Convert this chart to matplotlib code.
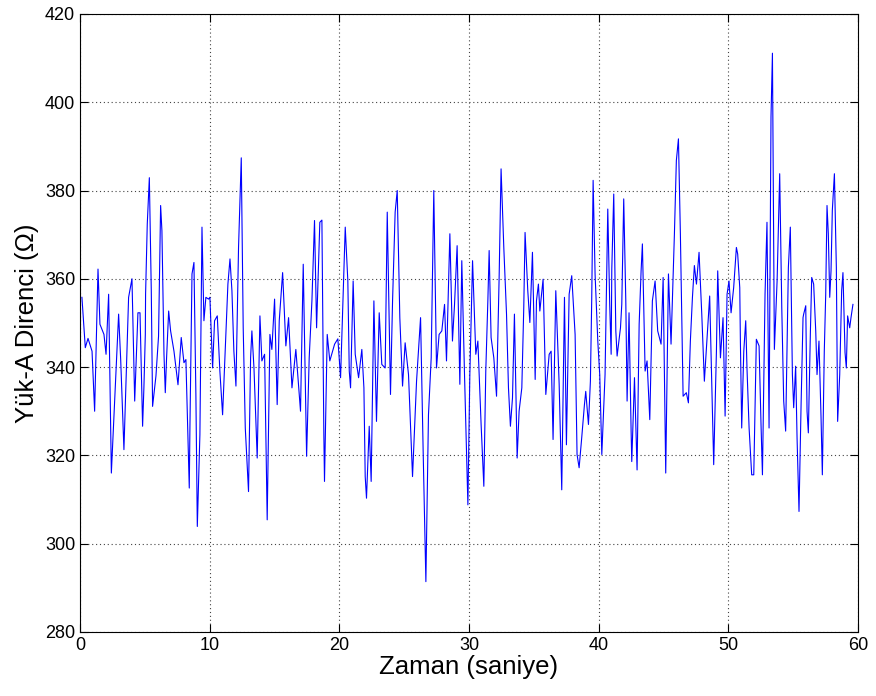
import matplotlib
matplotlib.use('Agg')
import matplotlib.pyplot as plt

# zaman (s) ve yük-A direnci (ohm)
zaman = [
    0.15, 0.41, 0.62, 0.93, 1.13, 1.39, 1.54, 1.85, 2.01, 2.21, 2.42, 2.62, 2.98, 3.14, 3.39, 3.75,
    4.01, 4.22, 4.47, 4.63, 4.83, 4.93, 5.04,
    5.06, 5.19, 5.35, 5.50, 5.60, 5.86, 6.06, 6.22, 6.32, 6.48, 6.58, 6.68, 6.84, 6.99, 7.25, 7.56,
    7.81, 8.02, 8.17, 8.38, 8.43, 8.48, 8.64, 8.79, 8.94, 9.05, 9.25, 9.41, 9.56, 9.71, 9.92,
    10.02, 10.23, 10.38, 10.59, 10.79, 11.00, 11.21, 11.41, 11.57, 11.72, 11.87, 12.03, 12.23, 12.44,
    12.59, 12.75, 13.00, 13.16, 13.26, 13.42, 13.67, 13.88, 14.03, 14.24, 14.44, 14.65, 14.80, 15.01,
    15.21,
    15.37, 15.63, 15.88, 16.09, 16.35, 16.65, 17.01, 17.22, 17.48, 17.68, 17.89, 18.09, 18.25, 18.50,
    18.66, 18.81, 18.86, 19.07, 19.27, 19.64, 19.89, 20.10, 20.30,
    20.46, 20.66, 20.77, 20.87, 21.07, 21.23, 21.49, 21.74, 21.90, 22.00, 22.10, 22.31, 22.46, 22.67,
    22.87, 23.08, 23.28, 23.54, 23.70, 23.95, 24.11, 24.31, 24.47, 24.67, 24.88, 25.08, 25.34,
    25.65, 25.96, 26.27, 26.47, 26.68, 26.88, 27.09, 27.29, 27.50, 27.70, 27.91, 28.12, 28.27, 28.53,
    28.73, 28.89, 29.09, 29.30, 29.45, 29.66, 29.92, 30.07, 30.28,
    30.53, 30.69, 30.94, 31.15, 31.30, 31.46, 31.56, 31.71, 31.92, 32.13, 32.33, 32.48, 32.69, 32.90,
    33.05, 33.20, 33.36, 33.51, 33.72, 33.87, 34.08, 34.23, 34.33, 34.54, 34.70, 34.90, 35.11, 35.21,
    35.36,
    35.47, 35.72, 35.93, 36.19, 36.34, 36.49, 36.70, 36.96, 37.16, 37.37, 37.52, 37.73, 37.93, 38.19,
    38.34, 38.50, 38.70, 38.91, 39.01, 39.22, 39.37, 39.47, 39.58, 39.73, 39.94, 40.09, 40.25, 40.50,
    40.71, 40.86, 40.97, 41.02, 41.17, 41.33, 41.43, 41.69, 41.79, 41.94, 42.10, 42.20, 42.35, 42.51,
    42.56, 42.77, 42.97, 43.13, 43.28, 43.38, 43.59, 43.74, 43.95, 44.15, 44.36, 44.56, 44.82, 44.98,
    45.18, 45.39, 45.59, 45.75,
    45.85, 46.00, 46.16, 46.31, 46.52, 46.77, 46.93, 47.08, 47.24, 47.39, 47.55, 47.75, 47.96, 48.16,
    48.32, 48.57, 48.73, 48.88, 49.09, 49.19, 49.40, 49.60, 49.76, 49.91, 50.06, 50.22, 50.42, 50.63,
    50.73, 50.89, 50.94, 51.04, 51.20, 51.35, 51.45, 51.61, 51.81, 51.97, 52.17, 52.38, 52.53, 52.64,
    52.84, 52.99, 53.15, 53.30, 53.41, 53.56, 53.77, 53.97, 54.13, 54.28, 54.43, 54.64, 54.79, 54.95,
    55.05, 55.20, 55.31, 55.46, 55.62, 55.77,
    55.82, 55.98, 56.08, 56.18, 56.34, 56.44, 56.59, 56.75, 56.85, 57.00, 57.16, 57.26, 57.41, 57.52,
    57.62, 57.72, 57.83, 57.93, 58.03, 58.19, 58.34, 58.44, 58.60, 58.75, 58.85, 59.01, 59.11, 59.21,
    59.37, 59.47, 59.62,
]
direnc = [
    355.8, 344.4, 346.5, 343.6, 330.0, 362.2, 349.7, 347.4, 342.9, 356.5, 316.0, 329.0, 352.0, 341.7, 321.3, 355.8,
    360.0, 332.3, 352.3, 352.3, 326.6, 335.3, 347.4,
    356.5, 372.4, 382.9, 357.3, 331.1, 338.0, 347.0, 376.6, 370.9, 342.9, 334.2, 342.1, 352.7, 348.2, 343.6, 336.0,
    346.7, 341.0, 341.7, 317.9, 312.6, 326.2, 361.1, 363.7, 333.8, 303.9, 324.7, 371.7, 350.5, 355.8, 355.4,
    355.8, 339.8, 350.5, 351.6, 339.1, 329.2, 344.4, 358.8, 364.5, 357.3, 343.6, 335.7, 367.1, 387.4,
    348.9, 326.2, 311.8, 342.1, 348.2, 339.8, 319.4, 351.6, 341.4, 342.9, 305.4, 347.4, 344.0, 355.4,
    331.5,
    350.5, 361.4, 344.8, 351.2, 335.3, 344.0, 330.0, 363.3, 319.8, 342.1, 355.0, 373.2, 348.9, 372.8,
    373.3, 324.7, 314.1, 347.4, 341.4, 345.2, 346.4, 337.6, 356.5,
    371.7, 359.5, 339.1, 335.3, 359.5, 342.9, 337.6, 344.0, 335.3, 315.2, 310.3, 326.6, 314.1, 355.0,
    327.7, 352.3, 340.6, 339.8, 375.1, 333.8, 355.0, 375.1, 380.0, 351.2, 335.7, 345.5, 338.3,
    315.2, 336.8, 351.2, 320.9, 291.4, 329.2, 342.1, 380.0, 339.8, 347.4, 348.2, 354.2, 341.4, 370.2,
    345.9, 354.2, 367.5, 336.1, 364.1, 338.3, 308.8, 338.3, 364.1,
    342.9, 345.9, 327.0, 313.0, 339.1, 355.0, 366.4, 346.7, 342.1, 333.4, 360.3, 384.9, 367.1, 352.0,
    335.3, 326.6, 333.0, 352.0, 319.4, 330.0, 335.3, 353.5, 370.5, 357.3, 350.1, 366.0, 337.2, 355.0,
    358.8,
    352.7, 359.9, 333.8, 342.9, 343.6, 323.6, 357.3, 336.1, 312.2, 355.8, 322.4, 356.5, 360.7, 347.4,
    320.2, 317.2, 324.0, 331.5, 334.5, 327.0, 336.8, 355.0, 382.3, 361.1, 345.9, 338.3, 320.2, 338.3,
    375.8, 354.2, 342.9, 362.2, 379.2, 348.2, 342.5, 348.9, 354.2, 378.1, 355.0, 332.3, 352.3, 325.5,
    318.6, 337.6, 316.7, 349.7, 361.8, 367.9, 339.1, 341.4, 328.1, 355.0, 359.5, 348.2, 345.2, 360.3,
    316.0, 361.1, 345.2, 361.1,
    370.2, 386.8, 391.7, 370.2, 333.4, 334.2, 331.9, 345.9, 355.8, 363.0, 358.8, 366.0, 352.0, 336.8,
    344.4, 356.1, 336.1, 317.9, 343.6, 361.8, 342.1, 351.2, 328.9, 356.5, 359.5, 352.3, 358.0, 367.1,
    365.6, 358.0, 345.5, 326.2, 343.6, 350.5, 339.5, 326.2, 315.6, 315.6, 346.3, 344.8, 327.0, 315.6,
    356.5, 372.8, 326.2, 396.7, 411.1, 344.0, 359.5, 383.8, 353.5, 332.3, 325.5, 362.6, 371.7, 338.3,
    330.8, 340.2, 323.9, 307.3, 331.5, 351.2,
    352.0, 353.9, 330.0, 325.1, 348.2, 360.3, 358.8, 348.2, 338.3, 345.9, 328.5, 315.6, 343.6, 356.5,
    376.6, 370.2, 355.8, 361.8, 375.5, 383.8, 362.6, 327.7, 338.3, 357.3, 361.4, 343.3, 339.8, 351.6,
    348.9, 351.2, 354.2,
]

plt.rcParams['font.family'] = ['Liberation Sans', 'DejaVu Sans']

fig = plt.figure(figsize=(8.76, 6.96), dpi=100)
ax = fig.add_axes([0.0913, 0.092, 0.888, 0.888])

ax.plot(zaman, direnc, color='#0000ff', linewidth=0.8)

ax.set_xlim(0, 60)
ax.set_ylim(280, 420)
ax.set_xticks(range(0, 61, 10))
ax.set_yticks(range(280, 421, 20))
ax.grid(True, linestyle=(0, (1, 2.5)), color='#444444', linewidth=0.8)
ax.tick_params(direction='in', top=True, right=True, labelsize=13, length=6)
for s in ax.spines.values():
    s.set_linewidth(0.8)

ax.set_xlabel('Zaman (saniye)', fontsize=18.5, labelpad=1)
ax.set_ylabel('Yük-A Direnci (Ω)', fontsize=18.5, labelpad=4)

fig.savefig('out.png', dpi=100)
